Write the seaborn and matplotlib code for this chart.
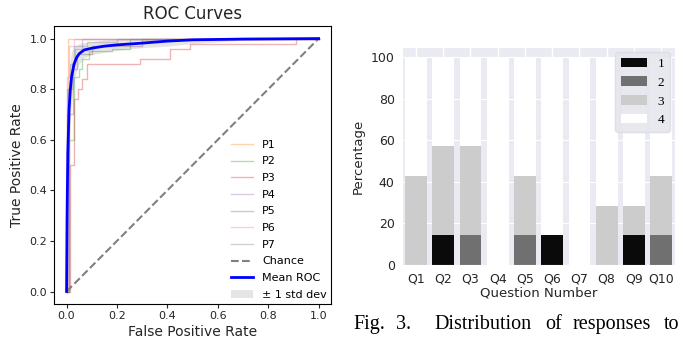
import numpy as np
import pandas as pd
import matplotlib
matplotlib.use("Agg")
import matplotlib.pyplot as plt
import seaborn as sns
from matplotlib.patches import Patch

# ROC curves, one step curve per participant
p1_fpr = [0, 0, 0.005, 0.005, 1.0]
p1_tpr = [0, 0.70, 0.70, 1.0, 1.0]
p2_fpr = [0, 0.01, 0.01, 0.03, 0.03, 0.05, 0.05, 0.06, 0.06, 0.09, 0.09, 0.18, 0.18, 0.25, 0.25, 1.0]
p2_tpr = [0, 0, 0.60, 0.60, 0.85, 0.85, 0.88, 0.88, 0.92, 0.92, 0.95, 0.95, 0.96, 0.96, 1.0, 1.0]
p3_fpr = [0, 0.015, 0.015, 0.03, 0.03, 0.045, 0.045, 0.06, 0.06, 0.08, 0.08, 0.29, 0.29, 0.41, 0.41, 0.49, 0.49, 0.91, 0.91, 1.0]
p3_tpr = [0, 0, 0.50, 0.50, 0.76, 0.76, 0.80, 0.80, 0.84, 0.84, 0.90, 0.90, 0.92, 0.92, 0.96, 0.96, 0.98, 0.98, 1.0, 1.0]
p4_fpr = [0, 0.005, 0.005, 0.02, 0.02, 0.035, 0.035, 0.06, 0.06, 1.0]
p4_tpr = [0, 0, 0.80, 0.80, 0.90, 0.90, 0.96, 0.96, 1.0, 1.0]
p5_fpr = [0, 0.01, 0.01, 0.025, 0.025, 0.04, 0.04, 0.10, 0.10, 0.30, 0.30, 1.0]
p5_tpr = [0, 0, 0.70, 0.70, 0.88, 0.88, 0.94, 0.94, 0.97, 0.97, 1.0, 1.0]
p6_fpr = [0, 0, 0.01, 0.01, 0.03, 0.03, 1.0]
p6_tpr = [0, 0.85, 0.85, 0.97, 0.97, 1.0, 1.0]
p7_fpr = [0, 0.003, 0.003, 0.015, 0.015, 0.03, 0.03, 0.08, 0.08, 0.20, 0.20, 1.0]
p7_tpr = [0, 0, 0.80, 0.80, 0.90, 0.90, 0.97, 0.97, 0.985, 0.985, 1.0, 1.0]

mean_fpr = [0, 0.002, 0.005, 0.01, 0.015, 0.02, 0.03, 0.04, 0.05, 0.07, 0.1, 0.15, 0.2, 0.3, 0.4, 0.5, 0.7, 1.0]
mean_tpr = [0, 0.30, 0.55, 0.72, 0.80, 0.85, 0.90, 0.925, 0.94, 0.955, 0.962, 0.97, 0.975, 0.982, 0.99, 0.995, 0.998, 1.0]
std_tpr = [0, 0.25, 0.20, 0.15, 0.12, 0.10, 0.07, 0.05, 0.04, 0.03, 0.025, 0.025, 0.022, 0.018, 0.02, 0.015, 0.004, 0]

# response distribution per question (percent of 7 respondents)
questions = ["Q1", "Q2", "Q3", "Q4", "Q5", "Q6", "Q7", "Q8", "Q9", "Q10"]
resp1 = [0, 14.29, 0, 0, 0, 14.29, 0, 0, 14.29, 0]
resp2 = [0, 0, 14.29, 0, 14.29, 0, 0, 0, 0, 14.29]
resp3 = [42.86, 42.86, 42.86, 0, 28.57, 0, 0, 28.57, 14.29, 28.57]
resp4 = [57.14, 42.86, 42.86, 100, 57.14, 85.71, 100, 71.43, 71.43, 57.14]
resp_labels = ["1", "2", "3", "4"]
resp_colors = ["#0a0a0a", "#707070", "#cccccc", "#ffffff"]

caption_words = ["Fig.", "3.", "Distribution", "of", "responses", "to"]

fig = plt.figure(figsize=(6.83, 3.41), dpi=100)

# ---- left: ROC curves
with sns.axes_style("ticks", {"axes.edgecolor": "black"}):
    ax1 = fig.add_axes([0.079, 0.108, 0.406, 0.816])
curves = [(p1_fpr, p1_tpr), (p2_fpr, p2_tpr), (p3_fpr, p3_tpr), (p4_fpr, p4_tpr),
          (p5_fpr, p5_tpr), (p6_fpr, p6_tpr), (p7_fpr, p7_tpr)]
for i, (f, t) in enumerate(curves):
    sns.lineplot(x=f, y=t, ax=ax1, color=f"C{i + 1}", alpha=0.35, lw=1,
                 sort=False, estimator=None, label=f"P{i + 1}")
ax1.plot([0, 1], [0, 1], ls="--", color="gray", lw=1.5, label="Chance")
sns.lineplot(x=mean_fpr, y=mean_tpr, ax=ax1, color="blue", lw=2,
             sort=False, estimator=None, label="Mean ROC")
mt = np.array(mean_tpr)
sd = np.array(std_tpr)
ax1.fill_between(mean_fpr, np.maximum(mt - sd, 0), np.minimum(mt + sd, 1),
                 color="grey", alpha=0.2, lw=0, label="± 1 std dev")
ax1.set_xlim(-0.05, 1.05)
ax1.set_ylim(-0.05, 1.05)
ax1.set_title("ROC Curves", fontsize=12, pad=5)
ax1.set_xlabel("False Positive Rate", fontsize=10, labelpad=3)
ax1.set_ylabel("True Positive Rate", fontsize=10)
ax1.tick_params(labelsize=8, length=3, width=0.8, pad=2)
for s in ax1.spines.values():
    s.set_linewidth(0.8)
ax1.legend(loc="lower right", fontsize=8, frameon=False, labelspacing=0.6,
           borderaxespad=0.0)

# ---- right: stacked response bars
with sns.axes_style("darkgrid"):
    ax2 = fig.add_axes([0.589, 0.223, 0.399, 0.639])
df = pd.DataFrame({"q": questions, "r1": resp1, "r2": resp2, "r3": resp3, "r4": resp4})
df["c1"] = df["r1"]
df["c2"] = df["c1"] + df["r2"]
df["c3"] = df["c2"] + df["r3"]
df["c4"] = df["c3"] + df["r4"]
for col, colr in zip(["c4", "c3", "c2", "c1"], resp_colors[::-1]):
    sns.barplot(data=df, x="q", y=col, ax=ax2, color=colr, saturation=1,
                linewidth=0, width=0.8)
ax2.set_ylim(0, 105)
ax2.xaxis.grid(True, color="white", lw=1)
ax2.set_axisbelow(True)
ax2.set_xlabel("Question Number", fontsize=9.5, labelpad=1)
ax2.set_ylabel("Percentage", fontsize=9.5)
ax2.tick_params(labelsize=9, pad=2)
handles = [Patch(facecolor=c, edgecolor="none") for c in resp_colors]
ax2.legend(handles, resp_labels, loc="upper right", facecolor="#e6e6ee",
           edgecolor="#dcdce4", framealpha=0.9, borderaxespad=0.4,
           prop={"family": "Liberation Serif", "size": 9.5})

# caption, justified words
caption_x = [353, 396, 434, 545, 573, 664]
for w, xp in zip(caption_words, caption_x):
    fig.text(xp / 683, 12 / 341, w, family="Liberation Serif", fontsize=14.5,
             va="baseline", ha="left")

fig.savefig("out.png", dpi=100)
